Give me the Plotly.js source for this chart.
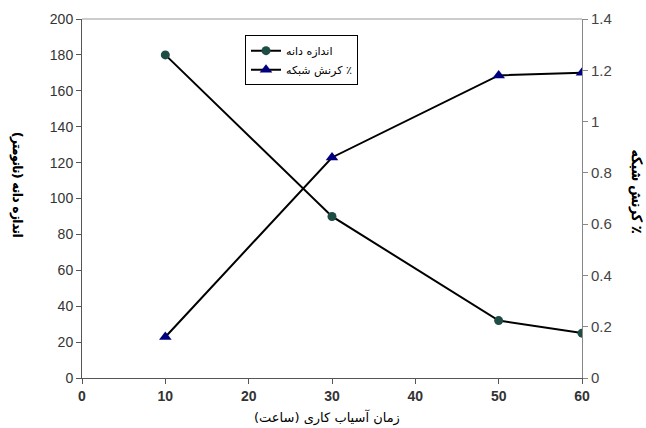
<!DOCTYPE html>
<html><head><meta charset="utf-8">
<script src="https://cdn.plot.ly/plotly-3.0.1.min.js"></script>
<style>html,body{margin:0;padding:0;background:#fff}#chart{width:646px;height:428px}</style>
</head><body><div id="chart"></div>
<script>
const millingHours = [10, 30, 50, 60];
const grainSize = [180, 90, 32, 25];
const latticeStrain = [0.16, 0.86, 1.18, 1.19];
const grainName = 'اندازه دانه';
const strainName = '\u200F٪ کرنش شبکه';
const xTitle = 'زمان آسیاب کاری (ساعت)';
const yLeftTitle = '\u200Fاندازه دانه (نانومتر)';
const yRightTitle = '\u200F٪ کرنش شبکه';

const arFont = 'DejaVu Sans, sans-serif';
const data = [
  {x: millingHours, y: grainSize, name: grainName, type: 'scatter', mode: 'lines+markers',
   line: {color: '#000', width: 2}, marker: {symbol: 'circle', size: 9, color: '#1d4d45'}},
  {x: millingHours, y: latticeStrain, name: strainName, type: 'scatter', mode: 'lines+markers', yaxis: 'y2',
   line: {color: '#000', width: 2}, marker: {symbol: 'triangle-up', size: 11, color: '#00007f'}}
];
const layout = {
  width: 646, height: 428, margin: {l: 82, r: 64, t: 19, b: 50},
  paper_bgcolor: '#fff', plot_bgcolor: '#fff', showlegend: true,
  font: {family: 'Liberation Sans, Arial, sans-serif', color: '#222'},
  xaxis: {range: [0, 60], dtick: 10, tick0: 0, showgrid: false, zeroline: false, showline: true,
    linecolor: '#555', linewidth: 1, ticks: 'outside', ticklen: 5, tickcolor: '#555',
    tickfont: {size: 14, color: '#333', family: 'Liberation Sans, Arial, sans-serif', weight: 'bold'},
    mirror: false},
  yaxis: {range: [0, 200], dtick: 20, showgrid: false, zeroline: false, showline: true,
    linecolor: '#555', linewidth: 1, ticks: 'outside', ticklen: 5, tickcolor: '#555',
    tickfont: {size: 14, color: '#333'}},
  yaxis2: {range: [0, 1.4], dtick: 0.2, overlaying: 'y', side: 'right', showgrid: false, zeroline: false,
    showline: true, linecolor: '#888', linewidth: 1, ticks: 'outside', ticklen: 5, tickcolor: '#888',
    tickfont: {size: 15, color: '#444'}},
  legend: {x: 0.326, y: 0.955, xanchor: 'left', yanchor: 'top', bgcolor: '#fff', bordercolor: '#000',
    borderwidth: 1, font: {size: 11, color: '#000', family: arFont}, tracegroupgap: 2},
  shapes: [{type: 'line', xref: 'paper', yref: 'paper', x0: 0, x1: 1, y0: 1, y1: 1, line: {color: '#999', width: 1}}],
  annotations: [
    {text: xTitle, xref: 'paper', yref: 'paper', x: 0.49, y: -0.11, yanchor: 'middle', showarrow: false,
     font: {size: 13, color: '#000', family: arFont}},
    {text: yLeftTitle, xref: 'paper', yref: 'paper', x: -0.15, y: 0.54, textangle: 90, showarrow: false,
     font: {size: 13, color: '#000', family: arFont, shadow: '0.5px 0 0 #000, -0.5px 0 0 #000'}},
    {text: yRightTitle, xref: 'paper', yref: 'paper', x: 1.13, y: 0.52, textangle: 90, showarrow: false,
     font: {size: 14, color: '#000', family: arFont, shadow: '0.5px 0 0 #000, -0.5px 0 0 #000'}}
  ]
};
Plotly.newPlot('chart', data, layout, {displayModeBar: false});
</script></body></html>
